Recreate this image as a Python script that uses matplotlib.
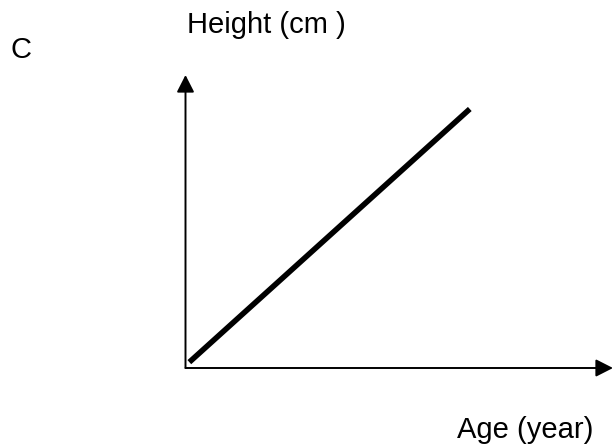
import matplotlib
matplotlib.use("Agg")
import matplotlib.pyplot as plt

plt.rcParams["font.family"] = ["Liberation Sans", "DejaVu Sans"]

# data: straight growth line (age vs height), arbitrary units
age = [0.09, 6.65]
height = [0.2, 8.84]

x_label = "Age (year)"
y_label = "Height (cm )"
panel = "C"

fig = plt.figure(figsize=(6.15, 4.47), dpi=100)
ax = fig.add_axes([185.5 / 615, 79 / 447, 427.5 / 615, 293 / 447])
ax.set_xlim(0, 10)
ax.set_ylim(0, 10)

ax.plot(age, height, color="black", lw=4.0, solid_capstyle="butt")

# axes as arrows
for tip in [(1, 0), (0, 1)]:
    ax.annotate("", xy=tip, xytext=(0, 0), xycoords="axes fraction",
                arrowprops=dict(arrowstyle="-|>,head_length=0.55,head_width=0.28",
                                mutation_scale=19, lw=1.4, color="black",
                                shrinkA=0, shrinkB=0))

for s in ax.spines.values():
    s.set_visible(False)
ax.set_xticks([])
ax.set_yticks([])

fig.text(187 / 615, 1 - 33 / 447, y_label, fontsize=21, va="baseline", ha="left")
fig.text(593 / 615, 1 - 438 / 447, x_label, fontsize=21, va="baseline", ha="right")
fig.text(11 / 615, 1 - 58 / 447, panel, fontsize=21, va="baseline", ha="left")

fig.savefig("out.png", dpi=100)
